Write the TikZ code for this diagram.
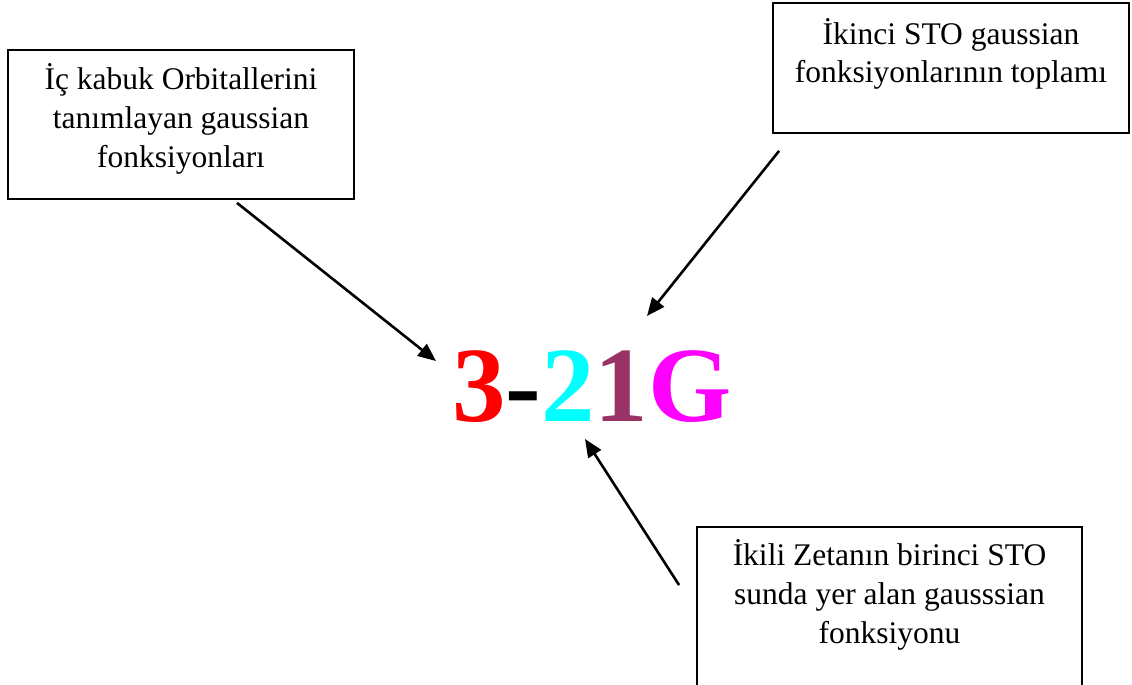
\documentclass[tikz,border=0pt]{standalone}
\usepackage{fontspec}
\setmainfont{Liberation Serif}
\usetikzlibrary{arrows.meta, calc}
\definecolor{plum}{HTML}{993366}
\definecolor{aqua}{HTML}{00FFFF}
\definecolor{fuchsia}{HTML}{FF00FF}

\begin{document}
\begin{tikzpicture}[x=0.5pt, y=-0.5pt,
  note/.style={draw, rectangle, line width=0.9pt, align=center, inner sep=0pt, anchor=base, font=\fontsize{15.75}{19.5}\selectfont},
  arrow/.style={-{Triangle[length=9pt, width=7.5pt]}, line width=1.3pt}
]
  \useasboundingbox (0,0) rectangle (1132,685);
  \clip (0,0) rectangle (1132,685);

  \node[note, minimum width=173pt, text height=58.5pt, text depth=16pt] (ickabuk) at (181,167)
    {İç kabuk Orbitallerini\\ tanımlayan gaussian\\ fonksiyonları};
  \node[note, minimum width=178pt, text height=40pt, text depth=25pt] (ikinci) at (951,83)
    {İkinci STO gaussian\\ fonksiyonlarının toplamı};
  \node[note, minimum width=192.5pt, text height=58pt, text depth=40pt] (ikili) at (889.5,643)
    {İkili Zetanın birinci STO\\ sunda yer alan gausssian\\ fonksiyonu};

  \node[anchor=base, inner sep=0pt, font=\fontsize{53.5}{60}\selectfont\bfseries] (basis) at (592,421)
    {\textcolor{red}{3}-\textcolor{aqua}{2}\textcolor{plum}{1}\textcolor{fuchsia}{G}};

  \draw[arrow] ($(ickabuk.south)+(56,3)$) -- ($(basis.base)+(-156,-60)$);
  \draw[arrow] ($(ikinci.south west)+(7,17)$) -- ($(basis.base)+(55,-105)$);
  \draw[arrow] ($(ikili.north west)+(-17,59)$) -- ($(basis.base)+(-7,18)$);
\end{tikzpicture}
\end{document}
